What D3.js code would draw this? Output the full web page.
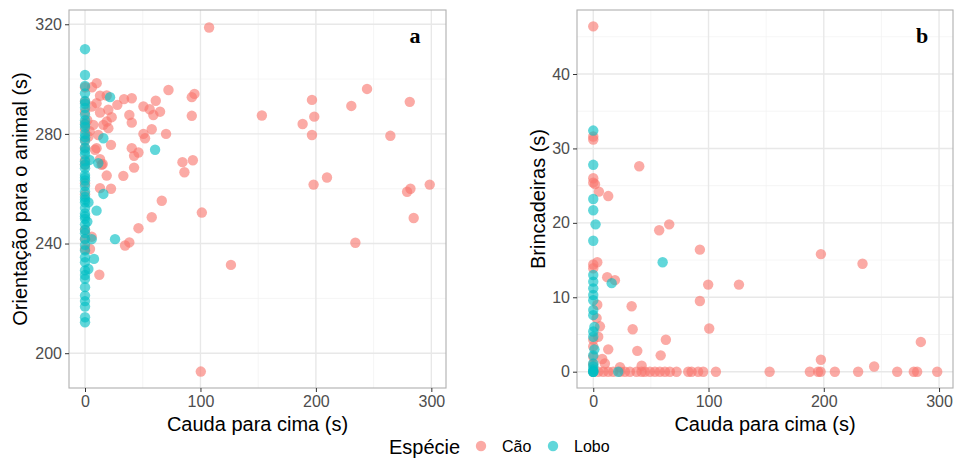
<!DOCTYPE html>
<html>
<head>
<meta charset="utf-8">
<script src="https://cdn.jsdelivr.net/npm/d3@7"></script>
<style>
  html, body { margin: 0; padding: 0; background: #fff; }
  svg { display: block; font-family: "Liberation Sans", Arial, Helvetica, sans-serif; }
</style>
</head>
<body>
<svg id="chart" width="954" height="459"></svg>
<script>
// ---- Panel a: Orientação para o animal (s) vs Cauda para cima (s) ----
const orientCaoCauda = [
  0, 0, 0, 0, 0, 0, 0, 0, 0, 0, 0, 0, 0, 0,
  10.1, 6, 72.3, 94.8, 92.5, 18.8, 13, 33.8, 40.5, 61.3, 10, 28, 50.6, 56, 65,
  5.8, 20.2, 13, 59.2, 92.5, 38.4, 23.1, 40.5, 15.9, 18.8, 20.2, 57.8, 7.2, 11.5,
  4, 50.6, 70.2, 52, 10, 22.5, 40.5, 46.3, 42.5, 13, 84.4, 93.4, 15.3, 86.1, 42.5,
  18.8, 33.2, 13, 22.5, 66.5, 101.2, 57.8, 46.3, 38.4, 34.7, 126.4, 12.4, 4.3, 5.8,
  100.3, 107.5, 153.2, 196.6, 198.6, 188.5, 196.6, 230.7, 244.3, 281.3, 264.5,
  198, 209.6, 281.9, 279, 298.6, 234.2, 284.7, 8.7, 14.4, 2, 3
];
const orientCao = [
  297, 291.8, 288, 284, 281.5, 277.8, 274.8, 270.5, 268.7, 262, 258, 245, 241.6, 238,
  298.5, 297, 296, 294.6, 293.4, 294, 293.9, 292.7, 293, 292.1, 291.2, 290.6, 290, 289, 288.1,
  290, 288.8, 287.8, 286.9, 286.6, 286.9, 286.1, 284.1, 283.3, 284.5, 282.1, 281.7, 283.3, 279.6,
  281, 280, 280, 278.4, 274.8, 276, 274.8, 273.2, 272, 270.8, 269.7, 270.4, 269, 266, 267.7,
  264.8, 264.7, 260.2, 260, 255.6, 251.3, 249.6, 245.6, 240.4, 239.3, 232.2, 228.6, 238, 242.5,
  193.3, 318.8, 286.7, 292.4, 286.3, 283.6, 279.6, 290.2, 296.4, 291.7, 279.3,
  261.5, 264.1, 260, 258.9, 261.5, 240.3, 249.3, 274.2, 268.7, 285, 279
];
const orientLoboCauda = [
  0, 0, 0, 0, 0, 0, 0, 0, 0, 0, 0, 0, 0, 0, 0, 0, 0, 0, 0, 0,
  0, 0, 0, 0, 0, 0, 0, 0, 0, 0, 0, 0, 0, 0, 0, 0, 0, 0, 0,
  0, 0, 0, 0, 0, 0, 0, 0, 0, 0,
  21.7, 15.9, 60.7, 11.5, 4, 15.9, 10, 26, 5.8, 7.8, 2.9, 3, 2
];
const orientLobo = [
  310.9, 301.5, 297.5, 294.8, 292, 289.5, 287, 285, 282.5, 280, 277.5, 275, 272.5, 270,
  267.5, 265, 263, 261, 259, 257, 255, 253, 251, 249, 247, 245, 243.8, 241.7, 239.5,
  237.5, 235, 233.2, 230.2, 227.1, 224.1, 221, 217, 213.1, 211.3,
  291, 283.5, 278.8, 273.8, 268.8, 264, 256, 250, 228.5, 219,
  293.4, 278.4, 274.2, 269.3, 270.5, 258.1, 252, 241.6, 241.6, 234.4, 230.7, 255, 248
];

// ---- Panel b: Brincadeiras (s) vs Cauda para cima (s) ----
const brincCaoCauda = [
  0, 0, 0, 0, 0, 0, 0, 0, 0, 0, 0, 0,
  39.9, 1.5, 4.9, 13, 57.2, 65.9, 92.5, 3.5, 12.1, 18.8, 99.7, 126.4, 92.5, 3.5, 33.3,
  2.9, 5.8, 34.2, 100.6, 63, 4.3, 13, 38.2, 58.5, 7.8, 10.1, 23.2, 42,
  197.5, 233.6, 284.2, 197.5, 243.7,
  4.3, 8.7, 13, 17.3, 23.2, 27.5, 31.8, 37.6, 41.9, 44.8, 49.2, 53.5, 57.8, 62.2, 66.5,
  72.3, 82.4, 85.3, 91, 95.4, 106.4, 153, 187.9, 195.1, 197.2, 209.6, 229.8, 263.7,
  278.1, 281, 298.4
];
const brincCao = [
  46.4, 31.6, 31.2, 26, 25.4, 14.4, 13.9, 4.3, 3.4, 2, 1, 0,
  27.6, 25.2, 24.2, 23.6, 19, 19.8, 16.4, 14.7, 12.7, 12.3, 11.7, 11.7, 9.5, 9, 8.8,
  7.2, 6.1, 5.7, 5.8, 4.3, 4.7, 3, 2.8, 2.2, 1.7, 1.1, 0.6, 0.8,
  15.8, 14.5, 4, 1.6, 0.7,
  0, 0, 0, 0, 0, 0, 0, 0, 0, 0, 0, 0, 0, 0, 0,
  0, 0, 0, 0, 0, 0, 0, 0, 0, 0, 0, 0, 0,
  0, 0, 0
];
const brincLoboCauda = [
  0, 0, 0, 0, 0, 0, 0, 0, 0, 0, 0, 0, 0, 0, 0, 0, 0, 0, 0, 0, 0,
  2, 60.2, 16, 21.7, 1, 1
];
const brincLobo = [
  32.4, 27.8, 23.2, 21.7, 17.6, 13, 12.1, 11.2, 10.3, 9.6, 8.3, 7.6, 5.4, 4.7, 2.2, 1.1, 0.7, 0.3, 0, 0, 0,
  19.8, 14.7, 11.9, 0, 6, 3
];

// ---- Axis breaks and labels ----
const xBreaks = [0, 100, 200, 300];
const xMinor = [50, 150, 250];
const yBreaksA = [200, 240, 280, 320];
const yMinorA = [220, 260, 300];
const yBreaksB = [0, 10, 20, 30, 40];
const yMinorB = [5, 15, 25, 35, 45];

const species = ["Cão", "Lobo"];
const speciesColors = ["#F8766D", "#00BFC4"];

const svg = d3.select("#chart");

function drawPanel(cfg) {
  const { left, right, top, bottom } = cfg.box;
  const x = d3.scaleLinear().domain(cfg.xDomain).range([left, right]);
  const y = d3.scaleLinear().domain(cfg.yDomain).range([bottom, top]);
  const g = svg.append("g");

  // minor grid
  g.selectAll(".vminor").data(cfg.xMinor).join("line")
    .attr("x1", d => x(d)).attr("x2", d => x(d))
    .attr("y1", top).attr("y2", bottom)
    .attr("stroke", "#f2f2f2").attr("stroke-width", 0.8);
  g.selectAll(".hminor").data(cfg.yMinor).join("line")
    .attr("y1", d => y(d)).attr("y2", d => y(d))
    .attr("x1", left).attr("x2", right)
    .attr("stroke", "#f2f2f2").attr("stroke-width", 0.8);
  // major grid
  g.selectAll(".vmajor").data(cfg.xBreaks).join("line")
    .attr("x1", d => x(d)).attr("x2", d => x(d))
    .attr("y1", top).attr("y2", bottom)
    .attr("stroke", "#e8e8e8").attr("stroke-width", 1.4);
  g.selectAll(".hmajor").data(cfg.yBreaks).join("line")
    .attr("y1", d => y(d)).attr("y2", d => y(d))
    .attr("x1", left).attr("x2", right)
    .attr("stroke", "#e8e8e8").attr("stroke-width", 1.4);

  // points
  cfg.series.forEach(s => {
    g.append("g").selectAll("circle").data(d3.zip(s.xs, s.ys)).join("circle")
      .attr("cx", d => x(d[0])).attr("cy", d => y(d[1]))
      .attr("r", 5.2)
      .attr("fill", s.color).attr("fill-opacity", 0.62);
  });

  // panel border
  g.append("rect")
    .attr("x", left).attr("y", top)
    .attr("width", right - left).attr("height", bottom - top)
    .attr("fill", "none").attr("stroke", "#b0b0b0").attr("stroke-width", 1.1);

  // axes
  const xAxis = d3.axisBottom(x).tickValues(cfg.xBreaks).tickSize(4).tickPadding(4).tickFormat(d3.format("d"));
  const yAxis = d3.axisLeft(y).tickValues(cfg.yBreaks).tickSize(4).tickPadding(3).tickFormat(d3.format("d"));
  const gx = g.append("g").attr("transform", `translate(0,${bottom})`).call(xAxis);
  const gy = g.append("g").attr("transform", `translate(${left},0)`).call(yAxis);
  [gx, gy].forEach(ax => {
    ax.select(".domain").remove();
    ax.selectAll(".tick line").attr("stroke", "#333").attr("stroke-width", 1);
    ax.selectAll(".tick text").attr("fill", "#4d4d4d")
      .style("font-size", "16px").style("font-family", "'Liberation Sans', Arial, sans-serif");
  });

  // axis titles
  g.append("text")
    .attr("x", (left + right) / 2).attr("y", 431)
    .attr("text-anchor", "middle").style("font-size", "20px").attr("fill", "#000")
    .text(cfg.xTitle);
  g.append("text")
    .attr("transform", `translate(${cfg.yTitleX},${(top + bottom) / 2}) rotate(-90)`)
    .attr("text-anchor", "middle").style("font-size", "20px").attr("fill", "#000")
    .text(cfg.yTitle);

  // panel tag
  g.append("text")
    .attr("x", right - 31).attr("y", top + 33)
    .attr("text-anchor", "middle")
    .style("font-family", "'Liberation Serif', 'Times New Roman', serif")
    .style("font-weight", "bold").style("font-size", "22px")
    .text(cfg.tag);
}

drawPanel({
  box: { left: 69, right: 446, top: 10, bottom: 388 },
  xDomain: [-13.87, 312.7], yDomain: [187.3, 325.2],
  xBreaks, xMinor, yBreaks: yBreaksA, yMinor: yMinorA,
  series: [
    { xs: orientCaoCauda, ys: orientCao, color: speciesColors[0] },
    { xs: orientLoboCauda, ys: orientLobo, color: speciesColors[1] }
  ],
  xTitle: "Cauda para cima (s)", yTitle: "Orientação para o animal (s)", yTitleX: 27, tag: "a"
});

drawPanel({
  box: { left: 577, right: 953, top: 10, bottom: 388 },
  xDomain: [-14.1, 312.1], yDomain: [-2.19, 48.6],
  xBreaks, xMinor, yBreaks: yBreaksB, yMinor: yMinorB,
  series: [
    { xs: brincCaoCauda, ys: brincCao, color: speciesColors[0] },
    { xs: brincLoboCauda, ys: brincLobo, color: speciesColors[1] }
  ],
  xTitle: "Cauda para cima (s)", yTitle: "Brincadeiras (s)", yTitleX: 545, tag: "b"
});

// legend
const legend = svg.append("g");
legend.append("text").attr("x", 389).attr("y", 454)
  .style("font-size", "20px").attr("fill", "#000").text("Espécie");
const legendX = [481, 553];
species.forEach((s, i) => {
  legend.append("circle").attr("cx", legendX[i]).attr("cy", 446).attr("r", 5.2)
    .attr("fill", speciesColors[i]).attr("fill-opacity", 0.62);
  legend.append("text").attr("x", legendX[i] + 21).attr("y", 452)
    .style("font-size", "16px").attr("fill", "#000").text(s);
});
</script>
</body>
</html>
